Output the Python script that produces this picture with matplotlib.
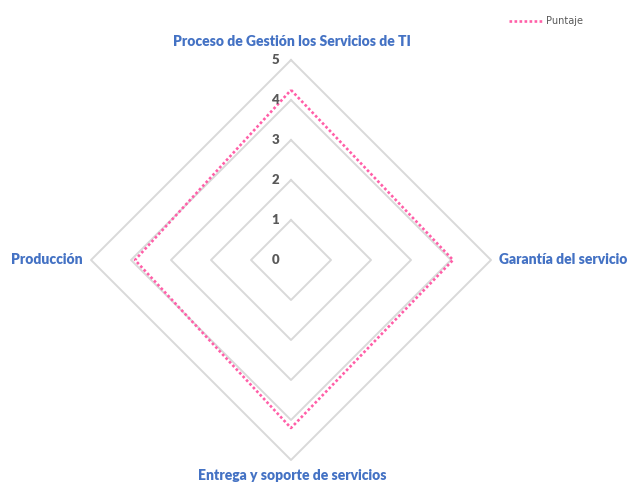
import numpy as np
import matplotlib
matplotlib.use('Agg')
import matplotlib.pyplot as plt

# data
categorias = ['Proceso de Gestión los Servicios de TI', 'Garantía del servicio',
              'Entrega y soporte de servicios', 'Producción']
puntaje = [4.25, 4.05, 4.2, 3.9]
niveles = [1, 2, 3, 4, 5]
etiquetas = ['0', '1', '2', '3', '4', '5']

rosa = '#FF5FA8'
azul = '#4472C4'
gris = '#D9D9D9'

# angles: top, right, bottom, left (clockwise from top)
ang = np.pi / 2 - np.arange(len(categorias)) * 2 * np.pi / len(categorias)
dx, dy = np.cos(ang), np.sin(ang)

fig = plt.figure(figsize=(6.3, 4.83), dpi=100)
ax = fig.add_axes([0, 0, 1, 1])
ax.set_xlim(-291 / 40, (630 - 291) / 40)
ax.set_ylim((260 - 483) / 40, 260 / 40)
ax.axis('off')

for n in niveles:
    xs = np.append(dx * n, dx[0] * n)
    ys = np.append(dy * n, dy[0] * n)
    ax.plot(xs, ys, color=gris, lw=1.4, zorder=1)

v = np.array(puntaje)
ax.plot(np.append(dx * v, dx[0] * v[0]), np.append(dy * v, dy[0] * v[0]),
        color=rosa, lw=1.9, linestyle=(0, (1, 0.9)), zorder=3, label='Puntaje')

for i, t in enumerate(etiquetas):
    ax.text(-0.3, i, t, ha='right', va='center', fontsize=9.5,
            fontweight='heavy', color='#595959', family='Lato')

fuente = dict(fontsize=10, fontweight='heavy', color=azul, family='Lato')
ax.text(0.02, 5.45, categorias[0], ha='center', va='center', **fuente)
ax.text(5.2, 0, categorias[1], ha='left', va='center', **fuente)
ax.text(0.02, -5.4, categorias[2], ha='center', va='center', **fuente)
ax.text(-5.2, 0, categorias[3], ha='right', va='center', **fuente)

leg = ax.legend(loc='upper right', bbox_to_anchor=(0.94, 0.985), frameon=False,
                fontsize=7, handlelength=3.6, handletextpad=0.3)
for t in leg.get_texts():
    t.set_color('#595959')

fig.savefig('out.png', dpi=100)
